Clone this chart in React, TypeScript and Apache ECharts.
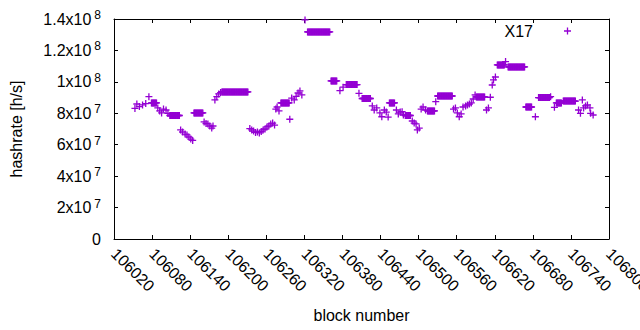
import { useEffect, useRef } from 'react';
import * as echarts from 'echarts';

// Runs of consecutive blocks sharing one hashrate (start block, end block, hashrate in h/s)
const runStartBlock = [
  106053, 106056, 106060, 106065, 106070, 106075, 106079,
  106089, 106092, 106095, 106098, 106102, 106105, 106108,
  106125, 106128, 106132, 106135, 106138, 106141, 106144,
  106146,
  106162, 106165, 106168, 106171, 106174, 106176,
  106179, 106182, 106185, 106188, 106190,
  106234, 106237, 106240, 106243, 106246, 106249, 106252, 106255, 106258, 106261, 106264, 106267, 106270, 106273,
  106275, 106277, 106280, 106283, 106297, 106300, 106304, 106307, 106310, 106313, 106316,
  106321, 106325,
  106362, 106376, 106381, 106386, 106406, 106411, 106427, 106430, 106434, 106439, 106442, 106446, 106449, 106452,
  106454, 106465, 106468, 106471, 106474, 106476, 106479, 106490, 106493, 106496, 106498, 106501,
  106504, 106507, 106511, 106514, 106527, 106530, 106555, 106558, 106561, 106564, 106567, 106570, 106574, 106577,
  106580, 106583, 106586, 106589, 106591, 106607, 106610, 106613, 106616, 106618, 106621, 106624, 106637, 106641,
  106669, 106684, 106689, 106708, 106714, 106717, 106728, 106752, 106755, 106758, 106760, 106763, 106766, 106770,
  106771, 106775,
];
const runEndBlock = [
  106053, 106056, 106060, 106065, 106070, 106075, 106087,
  106089, 106092, 106095, 106098, 106102, 106105, 106123,
  106125, 106128, 106132, 106135, 106138, 106141, 106144,
  106160,
  106162, 106165, 106168, 106171, 106174, 106176,
  106179, 106182, 106185, 106188, 106231,
  106234, 106237, 106240, 106243, 106246, 106249, 106252, 106255, 106258, 106261, 106264, 106267, 106270, 106273,
  106275, 106277, 106280, 106296, 106297, 106300, 106304, 106307, 106310, 106313, 106316,
  106321, 106360,
  106371, 106376, 106381, 106403, 106406, 106424, 106427, 106430, 106434, 106439, 106442, 106446, 106449, 106452,
  106462, 106465, 106468, 106471, 106474, 106476, 106487, 106490, 106493, 106496, 106498, 106501,
  106504, 106507, 106511, 106525, 106527, 106553, 106555, 106558, 106561, 106564, 106567, 106570, 106574, 106577,
  106580, 106583, 106586, 106589, 106604, 106607, 106610, 106613, 106616, 106618, 106621, 106635, 106637, 106667,
  106678, 106684, 106706, 106708, 106714, 106725, 106747, 106752, 106755, 106758, 106760, 106763, 106766, 106770,
  106771, 106775,
];
const runHashrate = [
  8.31e7, 8.59e7, 8.43e7, 8.53e7, 8.62e7, 9.06e7, 8.66e7,
  8.34e7, 8.15e7, 8.02e7, 8.27e7, 8.21e7, 7.99e7, 7.86e7,
  6.94e7, 6.81e7, 6.68e7, 6.62e7, 6.49e7, 6.36e7, 6.27e7,
  8.02e7,
  7.45e7, 7.35e7, 7.32e7, 7.19e7, 7.06e7, 7.19e7,
  8.85e7, 9.06e7, 9.23e7, 9.32e7, 9.36e7,
  7.03e7, 6.94e7, 6.87e7, 6.78e7, 6.81e7, 6.75e7, 6.84e7, 6.94e7, 7.0e7, 7.13e7, 7.19e7, 7.32e7, 7.38e7, 7.25e7,
  8.27e7, 8.4e7, 8.15e7, 8.66e7, 7.62e7, 8.97e7, 8.85e7, 9.07e7, 9.29e7, 9.42e7, 9.17e7,
  13.94e7, 13.18e7,
  10.06e7, 9.44e7, 9.66e7, 9.83e7, 9.27e7, 8.94e7, 8.47e7, 8.21e7, 8.34e7, 8.02e7, 7.78e7, 8.21e7, 8.08e7, 7.76e7,
  8.66e7, 8.21e7, 7.96e7, 8.08e7, 8.1e7, 7.89e7, 7.86e7, 7.51e7, 7.38e7, 7.32e7, 6.94e7, 7.06e7,
  8.27e7, 8.4e7, 8.21e7, 8.15e7, 8.74e7, 9.1e7, 8.27e7, 8.34e7, 8.02e7, 7.78e7, 7.96e7, 8.4e7, 8.47e7, 8.53e7,
  8.59e7, 8.66e7, 8.91e7, 9.17e7, 9.04e7, 8.21e7, 8.34e7, 9.02e7, 9.8e7, 10.12e7, 10.31e7, 11.08e7, 11.29e7, 10.95e7,
  8.4e7, 7.78e7, 9.0e7, 9.06e7, 8.38e7, 8.66e7, 8.78e7, 8.21e7, 8.0e7, 8.85e7, 8.34e7, 8.47e7, 8.53e7, 8.34e7,
  8.0e7, 7.89e7,
];

const seriesName = 'X17';
const xMin = 106020;
const xMax = 106800;
const xStep = 60;
const yMin = 0;
const yMax = 1.4e8;
const yStep = 2e7;

const PLUS = 'path://M2.85,0h1.3v2.85h2.85v1.3h-2.85v2.85h-1.3v-2.85h-2.85v-1.3h2.85z';
const COLOR = '#9400d3';
const FONT = '"Liberation Sans", Arial, sans-serif';

function yLabel(v: number): string {
  if (v === 0) return '{b|0}';
  const exp = Math.floor(Math.log10(v) + 1e-9);
  const mant = parseFloat((v / Math.pow(10, exp)).toFixed(2));
  return `{b|${mant}x10}{s|${exp}}`;
}

export default function App() {
  const ref = useRef<HTMLDivElement>(null);
  useEffect(() => {
    document.body.style.margin = '0';
    if (!ref.current) return;
    const chart = echarts.init(ref.current, undefined, { renderer: 'svg' });
    const points: number[][] = [];
    for (let i = 0; i < runStartBlock.length; i++) {
      for (let b = runStartBlock[i]; b <= runEndBlock[i]; b++) {
        points.push([b, runHashrate[i]]);
      }
    }
    const axisLine = { show: true, onZero: false, lineStyle: { color: '#000', width: 1 } };
    const axisTick = { show: true, inside: true, length: 4, lineStyle: { color: '#000', width: 1 } };
    chart.setOption({
      animation: false,
      textStyle: { fontFamily: FONT },
      grid: { left: 114, right: 31, top: 19, bottom: 91, containLabel: false, outerBoundsMode: 'none' },
      legend: {
        data: [seriesName],
        right: 69,
        top: 23,
        align: 'right',
        itemWidth: 7,
        itemHeight: 7,
        itemGap: 0,
        padding: 0,
        textStyle: { fontSize: 16, color: '#000', fontFamily: FONT, padding: [0, 26, 0, 0] },
      },
      xAxis: [
        {
          type: 'value', min: xMin, max: xMax, interval: xStep, position: 'bottom',
          name: 'block number', nameLocation: 'middle', nameGap: 68,
          nameTextStyle: { fontSize: 16, color: '#000', fontFamily: FONT },
          axisLine, axisTick,
          axisLabel: {
            rotate: -45, fontSize: 16, color: '#000', margin: 12, fontFamily: FONT,
            showMaxLabel: true, hideOverlap: false, formatter: (v: number) => String(v),
          },
          splitLine: { show: false },
        },
        {
          type: 'value', min: xMin, max: xMax, interval: xStep, position: 'top',
          axisLine, axisTick, axisLabel: { show: false }, splitLine: { show: false },
        },
      ],
      yAxis: [
        {
          type: 'value', min: yMin, max: yMax, interval: yStep, position: 'left',
          name: 'hashrate [h/s]', nameLocation: 'middle', nameGap: 90,
          nameTextStyle: { fontSize: 16, color: '#000', fontFamily: FONT },
          axisLine, axisTick,
          axisLabel: {
            margin: 13, color: '#000', formatter: yLabel,
            rich: {
              b: { fontSize: 16, lineHeight: 20, color: '#000', fontFamily: FONT },
              s: { fontSize: 12, lineHeight: 12, verticalAlign: 'top', padding: [0, 0, 0, 3], color: '#000', fontFamily: FONT },
            },
          },
          splitLine: { show: false },
        },
        {
          type: 'value', min: yMin, max: yMax, interval: yStep, position: 'right',
          axisLine, axisTick, axisLabel: { show: false }, splitLine: { show: false },
        },
      ],
      series: [
        {
          name: seriesName,
          type: 'scatter',
          xAxisIndex: 0,
          yAxisIndex: 0,
          symbol: PLUS,
          symbolSize: 7,
          itemStyle: { color: COLOR, opacity: 1 },
          emphasis: { disabled: true },
          data: points,
        },
      ],
    });
    return () => chart.dispose();
  }, []);
  return <div ref={ref} style={{ width: 640, height: 330 }} />;
}
